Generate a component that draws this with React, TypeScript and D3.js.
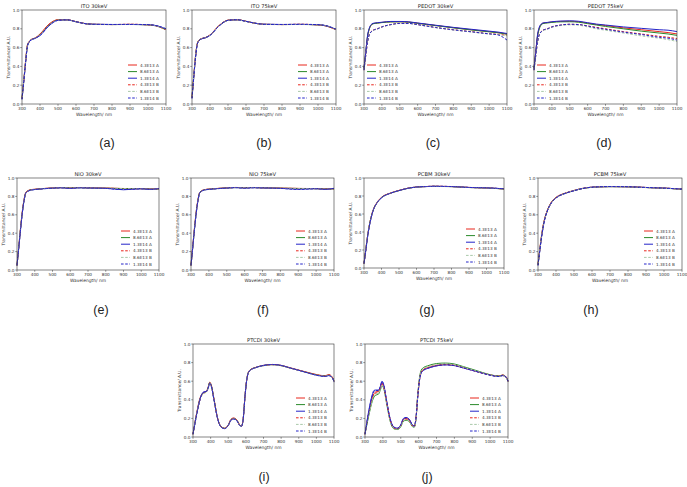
import React from "react";
import * as d3 from "d3";

// ---------- data ----------
const doseLabels = ["4.3E13 A", "8.6E13 A", "1.3E14 A", "4.3E13 B", "8.6E13 B", "1.3E14 B"];
const xTicks = [300, 400, 500, 600, 700, 800, 900, 1000, 1100];
const yTicks = [0.0, 0.2, 0.4, 0.6, 0.8, 1.0];

// wavelength sampling (nm) for the smooth films
const grid = [300, 310, 320, 330, 340, 350, 375, 400, 450, 500, 550, 600, 650, 700, 800, 900, 1000, 1050, 1100];
// finer sampling for the structured PTCDI spectra
const gridP = [300, 320, 340, 350, 360, 375, 385, 395, 405, 420, 440, 460, 480, 500, 515, 530, 550, 565, 575, 585, 595, 605, 615, 630, 650, 700, 750, 800, 850, 900, 950, 1000, 1050, 1070, 1090, 1100];

// ITO 30keV
const ito30_A1 = [0.06, 0.25, 0.46, 0.63, 0.665, 0.685, 0.705, 0.745, 0.85, 0.897, 0.896, 0.876, 0.856, 0.848, 0.845, 0.847, 0.843, 0.83, 0.79];
const ito30_A2 = [0.06, 0.25, 0.45, 0.62, 0.662, 0.683, 0.702, 0.738, 0.842, 0.894, 0.895, 0.875, 0.855, 0.847, 0.845, 0.846, 0.842, 0.829, 0.79];
const ito30_A3 = [0.05, 0.24, 0.44, 0.61, 0.66, 0.68, 0.7, 0.728, 0.832, 0.89, 0.895, 0.875, 0.855, 0.848, 0.846, 0.846, 0.844, 0.832, 0.8];
const ito30_B1 = [0.06, 0.25, 0.45, 0.62, 0.663, 0.684, 0.703, 0.74, 0.845, 0.895, 0.895, 0.875, 0.855, 0.847, 0.845, 0.848, 0.842, 0.828, 0.79];
const ito30_B2 = [0.06, 0.25, 0.45, 0.62, 0.662, 0.683, 0.702, 0.735, 0.838, 0.892, 0.894, 0.874, 0.855, 0.847, 0.845, 0.846, 0.843, 0.83, 0.795];
const ito30_B3 = [0.05, 0.24, 0.44, 0.61, 0.66, 0.68, 0.7, 0.73, 0.835, 0.89, 0.895, 0.875, 0.855, 0.848, 0.846, 0.847, 0.844, 0.832, 0.8];

// ITO 75keV
const ito75_A1 = [0.07, 0.3, 0.52, 0.65, 0.68, 0.695, 0.708, 0.735, 0.835, 0.892, 0.897, 0.88, 0.86, 0.848, 0.845, 0.847, 0.842, 0.828, 0.79];
const ito75_A2 = [0.07, 0.3, 0.51, 0.645, 0.678, 0.693, 0.706, 0.732, 0.832, 0.89, 0.896, 0.879, 0.859, 0.847, 0.845, 0.846, 0.842, 0.829, 0.792];
const ito75_A3 = [0.06, 0.29, 0.5, 0.64, 0.675, 0.69, 0.705, 0.73, 0.83, 0.89, 0.896, 0.879, 0.86, 0.848, 0.846, 0.847, 0.844, 0.83, 0.795];
const ito75_B1 = [0.07, 0.3, 0.51, 0.645, 0.678, 0.692, 0.706, 0.733, 0.833, 0.891, 0.896, 0.879, 0.859, 0.847, 0.845, 0.848, 0.842, 0.828, 0.79];
const ito75_B2 = [0.07, 0.3, 0.51, 0.645, 0.677, 0.692, 0.705, 0.731, 0.831, 0.89, 0.895, 0.878, 0.859, 0.847, 0.845, 0.846, 0.843, 0.83, 0.793];
const ito75_B3 = [0.06, 0.29, 0.5, 0.64, 0.675, 0.69, 0.705, 0.73, 0.83, 0.89, 0.896, 0.879, 0.86, 0.848, 0.846, 0.848, 0.844, 0.831, 0.796];

// PEDOT 30keV
const ped30_A1 = [0.38, 0.55, 0.72, 0.8, 0.84, 0.855, 0.862, 0.868, 0.875, 0.876, 0.872, 0.86, 0.848, 0.836, 0.812, 0.79, 0.77, 0.76, 0.745];
const ped30_A2 = [0.38, 0.55, 0.72, 0.8, 0.838, 0.853, 0.86, 0.866, 0.873, 0.874, 0.87, 0.858, 0.846, 0.834, 0.81, 0.788, 0.768, 0.758, 0.742];
const ped30_A3 = [0.38, 0.56, 0.73, 0.81, 0.845, 0.858, 0.865, 0.87, 0.878, 0.878, 0.874, 0.862, 0.85, 0.838, 0.815, 0.795, 0.775, 0.765, 0.75];
const ped30_B1 = [0.36, 0.52, 0.66, 0.74, 0.77, 0.785, 0.8, 0.82, 0.845, 0.858, 0.858, 0.845, 0.83, 0.815, 0.79, 0.77, 0.748, 0.742, 0.73];
const ped30_B2 = [0.36, 0.52, 0.66, 0.735, 0.765, 0.78, 0.797, 0.818, 0.843, 0.856, 0.856, 0.843, 0.828, 0.812, 0.787, 0.766, 0.744, 0.738, 0.725];
const ped30_B3 = [0.36, 0.52, 0.66, 0.74, 0.768, 0.783, 0.8, 0.82, 0.845, 0.857, 0.857, 0.844, 0.829, 0.814, 0.789, 0.768, 0.746, 0.735, 0.68];

// PEDOT 75keV
const ped75_A1 = [0.38, 0.56, 0.73, 0.81, 0.845, 0.86, 0.866, 0.873, 0.879, 0.88, 0.875, 0.86, 0.845, 0.835, 0.81, 0.79, 0.77, 0.76, 0.745];
const ped75_A2 = [0.38, 0.55, 0.72, 0.8, 0.84, 0.856, 0.862, 0.868, 0.874, 0.875, 0.87, 0.855, 0.84, 0.825, 0.8, 0.775, 0.755, 0.745, 0.73];
const ped75_A3 = [0.38, 0.56, 0.74, 0.82, 0.85, 0.862, 0.868, 0.875, 0.882, 0.885, 0.88, 0.865, 0.85, 0.84, 0.82, 0.805, 0.79, 0.785, 0.77];
const ped75_B1 = [0.36, 0.52, 0.66, 0.74, 0.77, 0.785, 0.8, 0.82, 0.84, 0.848, 0.845, 0.83, 0.815, 0.8, 0.77, 0.745, 0.72, 0.71, 0.695];
const ped75_B2 = [0.36, 0.51, 0.65, 0.735, 0.765, 0.78, 0.795, 0.815, 0.835, 0.842, 0.838, 0.82, 0.8, 0.785, 0.755, 0.725, 0.7, 0.685, 0.665];
const ped75_B3 = [0.36, 0.52, 0.66, 0.74, 0.768, 0.785, 0.8, 0.82, 0.84, 0.848, 0.845, 0.83, 0.81, 0.795, 0.765, 0.74, 0.71, 0.7, 0.68];

// NiO 30keV
const nio30_A1 = [0.05, 0.25, 0.46, 0.64, 0.77, 0.845, 0.872, 0.878, 0.886, 0.892, 0.896, 0.893, 0.897, 0.893, 0.89, 0.886, 0.884, 0.882, 0.88];
const nio30_A2 = [0.05, 0.25, 0.45, 0.63, 0.76, 0.84, 0.87, 0.876, 0.885, 0.89, 0.895, 0.892, 0.895, 0.892, 0.889, 0.885, 0.884, 0.88, 0.879];
const nio30_A3 = [0.05, 0.24, 0.44, 0.62, 0.755, 0.838, 0.868, 0.875, 0.884, 0.89, 0.894, 0.886, 0.894, 0.892, 0.888, 0.872, 0.883, 0.875, 0.885];
const nio30_B1 = [0.05, 0.25, 0.45, 0.63, 0.762, 0.84, 0.87, 0.877, 0.885, 0.891, 0.895, 0.892, 0.896, 0.893, 0.89, 0.885, 0.884, 0.881, 0.88];
const nio30_B2 = [0.05, 0.25, 0.45, 0.63, 0.76, 0.84, 0.869, 0.876, 0.885, 0.89, 0.895, 0.892, 0.895, 0.892, 0.889, 0.885, 0.883, 0.88, 0.879];
const nio30_B3 = [0.05, 0.24, 0.44, 0.62, 0.755, 0.838, 0.866, 0.874, 0.883, 0.889, 0.893, 0.888, 0.893, 0.891, 0.887, 0.875, 0.882, 0.878, 0.884];

// NiO 75keV
const nio75_A1 = [0.05, 0.26, 0.47, 0.65, 0.775, 0.848, 0.873, 0.88, 0.887, 0.893, 0.897, 0.895, 0.897, 0.894, 0.89, 0.887, 0.885, 0.882, 0.88];
const nio75_A2 = [0.05, 0.25, 0.46, 0.64, 0.77, 0.845, 0.871, 0.878, 0.886, 0.892, 0.896, 0.894, 0.896, 0.893, 0.889, 0.886, 0.884, 0.881, 0.879];
const nio75_A3 = [0.05, 0.25, 0.45, 0.63, 0.765, 0.842, 0.87, 0.877, 0.885, 0.891, 0.896, 0.89, 0.895, 0.892, 0.888, 0.878, 0.884, 0.876, 0.887];
const nio75_B1 = [0.05, 0.26, 0.46, 0.64, 0.772, 0.846, 0.872, 0.879, 0.886, 0.892, 0.897, 0.894, 0.896, 0.893, 0.889, 0.886, 0.884, 0.881, 0.88];
const nio75_B2 = [0.05, 0.25, 0.46, 0.64, 0.77, 0.845, 0.871, 0.878, 0.885, 0.891, 0.896, 0.893, 0.896, 0.893, 0.889, 0.886, 0.883, 0.88, 0.879];
const nio75_B3 = [0.05, 0.25, 0.45, 0.63, 0.765, 0.842, 0.869, 0.876, 0.884, 0.89, 0.895, 0.889, 0.894, 0.892, 0.887, 0.876, 0.883, 0.877, 0.888];

// PCBM 30keV
const pcb30_A1 = [0.05, 0.2, 0.35, 0.47, 0.56, 0.63, 0.73, 0.785, 0.832, 0.862, 0.886, 0.9, 0.905, 0.908, 0.905, 0.895, 0.89, 0.885, 0.878];
const pcb30_A2 = [0.05, 0.2, 0.35, 0.47, 0.56, 0.628, 0.728, 0.782, 0.83, 0.86, 0.885, 0.899, 0.905, 0.907, 0.904, 0.894, 0.889, 0.884, 0.877];
const pcb30_A3 = [0.05, 0.19, 0.34, 0.46, 0.55, 0.625, 0.725, 0.78, 0.83, 0.86, 0.885, 0.899, 0.904, 0.908, 0.905, 0.895, 0.89, 0.886, 0.88];
const pcb30_B1 = [0.05, 0.2, 0.35, 0.47, 0.56, 0.63, 0.73, 0.784, 0.831, 0.861, 0.886, 0.9, 0.905, 0.908, 0.905, 0.895, 0.889, 0.885, 0.878];
const pcb30_B2 = [0.05, 0.2, 0.35, 0.47, 0.558, 0.628, 0.727, 0.782, 0.83, 0.86, 0.885, 0.899, 0.904, 0.907, 0.904, 0.894, 0.889, 0.884, 0.877];
const pcb30_B3 = [0.05, 0.19, 0.34, 0.46, 0.552, 0.625, 0.726, 0.781, 0.83, 0.86, 0.885, 0.9, 0.905, 0.908, 0.905, 0.895, 0.89, 0.886, 0.88];

// PCBM 75keV
const pcb75_A1 = [0.06, 0.23, 0.38, 0.5, 0.58, 0.64, 0.74, 0.79, 0.835, 0.865, 0.888, 0.9, 0.905, 0.907, 0.905, 0.897, 0.89, 0.885, 0.878];
const pcb75_A2 = [0.06, 0.22, 0.37, 0.49, 0.575, 0.635, 0.735, 0.785, 0.833, 0.863, 0.887, 0.899, 0.904, 0.906, 0.904, 0.896, 0.889, 0.884, 0.877];
const pcb75_A3 = [0.05, 0.21, 0.36, 0.48, 0.57, 0.632, 0.732, 0.783, 0.832, 0.862, 0.887, 0.9, 0.905, 0.907, 0.905, 0.897, 0.89, 0.885, 0.88];
const pcb75_B1 = [0.06, 0.22, 0.37, 0.49, 0.576, 0.636, 0.736, 0.787, 0.834, 0.864, 0.888, 0.9, 0.905, 0.907, 0.905, 0.897, 0.89, 0.885, 0.878];
const pcb75_B2 = [0.06, 0.22, 0.37, 0.49, 0.574, 0.634, 0.734, 0.785, 0.833, 0.863, 0.887, 0.899, 0.904, 0.906, 0.904, 0.896, 0.889, 0.884, 0.877];
const pcb75_B3 = [0.05, 0.21, 0.36, 0.48, 0.57, 0.632, 0.732, 0.783, 0.832, 0.862, 0.887, 0.9, 0.905, 0.907, 0.905, 0.897, 0.89, 0.885, 0.879];

// PTCDI 30keV
const pt30_A1 = [0.03, 0.25, 0.42, 0.46, 0.48, 0.49, 0.53, 0.59, 0.55, 0.4, 0.2, 0.11, 0.095, 0.13, 0.19, 0.205, 0.18, 0.13, 0.12, 0.2, 0.44, 0.62, 0.7, 0.73, 0.745, 0.77, 0.78, 0.77, 0.745, 0.72, 0.695, 0.672, 0.658, 0.672, 0.645, 0.6];
const pt30_A2 = [0.03, 0.24, 0.41, 0.455, 0.475, 0.485, 0.525, 0.585, 0.545, 0.395, 0.198, 0.108, 0.093, 0.127, 0.185, 0.2, 0.177, 0.128, 0.118, 0.198, 0.438, 0.618, 0.698, 0.728, 0.744, 0.768, 0.778, 0.768, 0.742, 0.717, 0.692, 0.668, 0.655, 0.665, 0.64, 0.598];
const pt30_A3 = [0.03, 0.24, 0.41, 0.46, 0.485, 0.49, 0.52, 0.58, 0.54, 0.39, 0.195, 0.105, 0.09, 0.125, 0.18, 0.195, 0.172, 0.125, 0.115, 0.195, 0.435, 0.615, 0.695, 0.726, 0.742, 0.77, 0.78, 0.77, 0.743, 0.717, 0.69, 0.665, 0.652, 0.66, 0.642, 0.595];
const pt30_B1 = [0.03, 0.24, 0.4, 0.45, 0.47, 0.482, 0.522, 0.582, 0.542, 0.392, 0.197, 0.107, 0.092, 0.126, 0.184, 0.198, 0.176, 0.127, 0.117, 0.197, 0.437, 0.617, 0.697, 0.727, 0.743, 0.767, 0.777, 0.767, 0.742, 0.717, 0.692, 0.668, 0.656, 0.668, 0.643, 0.6];
const pt30_B2 = [0.03, 0.24, 0.4, 0.448, 0.468, 0.48, 0.52, 0.58, 0.54, 0.39, 0.196, 0.106, 0.091, 0.125, 0.182, 0.196, 0.174, 0.126, 0.116, 0.196, 0.436, 0.616, 0.696, 0.726, 0.742, 0.766, 0.776, 0.766, 0.741, 0.716, 0.691, 0.667, 0.654, 0.664, 0.64, 0.597];
const pt30_B3 = [0.03, 0.23, 0.4, 0.455, 0.478, 0.486, 0.518, 0.578, 0.538, 0.388, 0.195, 0.105, 0.09, 0.124, 0.18, 0.194, 0.172, 0.124, 0.114, 0.194, 0.434, 0.614, 0.694, 0.725, 0.742, 0.768, 0.779, 0.769, 0.743, 0.717, 0.69, 0.664, 0.651, 0.66, 0.638, 0.59];

// PTCDI 75keV
const pt75_A1 = [0.03, 0.25, 0.42, 0.465, 0.485, 0.49, 0.53, 0.58, 0.545, 0.395, 0.195, 0.105, 0.09, 0.125, 0.19, 0.2, 0.175, 0.125, 0.115, 0.2, 0.44, 0.62, 0.7, 0.73, 0.748, 0.772, 0.782, 0.772, 0.747, 0.72, 0.692, 0.668, 0.655, 0.668, 0.645, 0.6];
const pt75_A2 = [0.03, 0.22, 0.38, 0.43, 0.45, 0.46, 0.5, 0.55, 0.52, 0.37, 0.175, 0.09, 0.08, 0.11, 0.17, 0.18, 0.16, 0.112, 0.105, 0.19, 0.45, 0.64, 0.72, 0.75, 0.765, 0.79, 0.795, 0.785, 0.757, 0.728, 0.698, 0.67, 0.655, 0.665, 0.64, 0.598];
const pt75_A3 = [0.03, 0.27, 0.45, 0.5, 0.505, 0.505, 0.54, 0.6, 0.56, 0.4, 0.2, 0.11, 0.095, 0.13, 0.2, 0.21, 0.185, 0.13, 0.12, 0.2, 0.43, 0.61, 0.69, 0.72, 0.737, 0.765, 0.776, 0.768, 0.743, 0.717, 0.69, 0.665, 0.65, 0.66, 0.645, 0.6];
const pt75_B1 = [0.03, 0.24, 0.41, 0.455, 0.472, 0.48, 0.518, 0.57, 0.535, 0.385, 0.188, 0.1, 0.087, 0.12, 0.182, 0.192, 0.17, 0.12, 0.112, 0.196, 0.438, 0.618, 0.698, 0.728, 0.744, 0.768, 0.778, 0.769, 0.744, 0.718, 0.69, 0.666, 0.652, 0.662, 0.64, 0.596];
const pt75_B2 = [0.03, 0.23, 0.39, 0.44, 0.46, 0.47, 0.508, 0.56, 0.528, 0.378, 0.182, 0.096, 0.084, 0.116, 0.176, 0.186, 0.165, 0.116, 0.108, 0.193, 0.442, 0.626, 0.706, 0.736, 0.752, 0.778, 0.786, 0.776, 0.75, 0.722, 0.693, 0.667, 0.652, 0.66, 0.638, 0.595];
const pt75_B3 = [0.03, 0.26, 0.44, 0.49, 0.5, 0.5, 0.535, 0.595, 0.555, 0.398, 0.198, 0.108, 0.093, 0.128, 0.196, 0.206, 0.182, 0.128, 0.118, 0.198, 0.432, 0.612, 0.692, 0.722, 0.738, 0.765, 0.776, 0.767, 0.742, 0.716, 0.689, 0.664, 0.65, 0.662, 0.642, 0.598];

// ---------- styling & layout ----------
const seriesStyle = [
  { color: "#e8261d", dash: null },
  { color: "#2a8a2a", dash: null },
  { color: "#2424c8", dash: null },
  { color: "#e8261d", dash: "2.6,1.6" },
  { color: "#a9c9a9", dash: "2.6,1.6" },
  { color: "#2424c8", dash: "2.6,1.6" },
];

type Panel = {
  title: string;
  tag: string;
  x: number[];
  series: number[][];
  box: [number, number, number, number]; // left, right, top, bottom
  legendLeft: boolean;
  tagPos: [number, number];
};

const panels: Panel[] = [
  { title: "ITO 30keV", tag: "(a)", x: grid, series: [ito30_A1, ito30_A2, ito30_A3, ito30_B1, ito30_B2, ito30_B3], box: [22, 166, 10, 104], legendLeft: false, tagPos: [107, 147] },
  { title: "ITO 75keV", tag: "(b)", x: grid, series: [ito75_A1, ito75_A2, ito75_A3, ito75_B1, ito75_B2, ito75_B3], box: [192, 336, 10, 104], legendLeft: false, tagPos: [264, 147] },
  { title: "PEDOT 30keV", tag: "(c)", x: grid, series: [ped30_A1, ped30_A2, ped30_A3, ped30_B1, ped30_B2, ped30_B3], box: [364, 507, 10, 104], legendLeft: true, tagPos: [433, 147] },
  { title: "PEDOT 75keV", tag: "(d)", x: grid, series: [ped75_A1, ped75_A2, ped75_A3, ped75_B1, ped75_B2, ped75_B3], box: [534, 677, 10, 104], legendLeft: true, tagPos: [604, 147] },
  { title: "NiO 30keV", tag: "(e)", x: grid, series: [nio30_A1, nio30_A2, nio30_A3, nio30_B1, nio30_B2, nio30_B3], box: [17, 159, 178, 270], legendLeft: false, tagPos: [101, 314] },
  { title: "NiO 75keV", tag: "(f)", x: grid, series: [nio75_A1, nio75_A2, nio75_A3, nio75_B1, nio75_B2, nio75_B3], box: [191, 334, 178, 270], legendLeft: false, tagPos: [263, 314] },
  { title: "PCBM 30keV", tag: "(g)", x: grid, series: [pcb30_A1, pcb30_A2, pcb30_A3, pcb30_B1, pcb30_B2, pcb30_B3], box: [364, 504, 178, 268], legendLeft: false, tagPos: [427, 314] },
  { title: "PCBM 75keV", tag: "(h)", x: grid, series: [pcb75_A1, pcb75_A2, pcb75_A3, pcb75_B1, pcb75_B2, pcb75_B3], box: [538, 682, 178, 270], legendLeft: false, tagPos: [591, 314] },
  { title: "PTCDI 30keV", tag: "(i)", x: gridP, series: [pt30_A1, pt30_A2, pt30_A3, pt30_B1, pt30_B2, pt30_B3], box: [193, 334, 344, 437], legendLeft: false, tagPos: [264, 481] },
  { title: "PTCDI 75keV", tag: "(j)", x: gridP, series: [pt75_A1, pt75_A2, pt75_A3, pt75_B1, pt75_B2, pt75_B3], box: [365, 508, 344, 437], legendLeft: false, tagPos: [427, 481] },
];

const axisFont = "DejaVu Sans, sans-serif";

function SpectrumPanel({ p }: { p: Panel }) {
  const [l, r, t, b] = p.box;
  const xs = d3.scaleLinear().domain([300, 1100]).range([l, r]);
  const ys = d3.scaleLinear().domain([0, 1]).range([b, t]);
  const line = d3
    .line<[number, number]>()
    .x((d) => xs(d[0]))
    .y((d) => ys(d[1]))
    .curve(d3.curveMonotoneX);

  const legX = p.legendLeft ? l + 3 : r - 38;
  const legRowY = (i: number) => b - 39 + i * 6.6;

  return (
    <g>
      <text x={(l + r) / 2} y={t - 2.5} fontSize={5.2} textAnchor="middle" fontFamily={axisFont} fill="#222">
        {p.title}
      </text>
      {p.series.map((vals, i) => (
        <path
          key={i}
          d={line(p.x.map((w, k) => [w, vals[k]] as [number, number])) || ""}
          fill="none"
          stroke={seriesStyle[i].color}
          strokeWidth={1}
          strokeDasharray={seriesStyle[i].dash || undefined}
        />
      ))}
      <rect x={l} y={t} width={r - l} height={b - t} fill="none" stroke="#333" strokeWidth={0.6} />
      {xTicks.map((v) => (
        <g key={"x" + v}>
          <line x1={xs(v)} x2={xs(v)} y1={b} y2={b + 1.8} stroke="#333" strokeWidth={0.5} />
          <text x={xs(v)} y={b + 6.2} fontSize={4.2} textAnchor="middle" fontFamily={axisFont} fill="#333">
            {v}
          </text>
        </g>
      ))}
      {yTicks.map((v) => (
        <g key={"y" + v}>
          <line x1={l - 1.8} x2={l} y1={ys(v)} y2={ys(v)} stroke="#333" strokeWidth={0.5} />
          <text x={l - 2.6} y={ys(v) + 1.5} fontSize={4.2} textAnchor="end" fontFamily={axisFont} fill="#333">
            {v.toFixed(1)}
          </text>
        </g>
      ))}
      <text x={(l + r) / 2} y={b + 11.5} fontSize={4.4} textAnchor="middle" fontFamily={axisFont} fill="#333">
        Wavelength/ nm
      </text>
      <text
        transform={`translate(${l - 12.5},${(t + b) / 2}) rotate(-90)`}
        fontSize={4.4}
        textAnchor="middle"
        fontFamily={axisFont}
        fill="#333"
      >
        Transmittance/ A.U.
      </text>
      {doseLabels.map((lab, i) => (
        <g key={lab}>
          <line
            x1={legX}
            x2={legX + 9}
            y1={legRowY(i)}
            y2={legRowY(i)}
            stroke={seriesStyle[i].color}
            strokeWidth={1}
            strokeDasharray={seriesStyle[i].dash || undefined}
          />
          <text x={legX + 12} y={legRowY(i) + 1.5} fontSize={4.2} fontFamily={axisFont} fill="#333">
            {lab}
          </text>
        </g>
      ))}
    </g>
  );
}

export default function App() {
  return (
    <svg
      width={687}
      height={487}
      viewBox="0 0 687 487"
      style={{ position: "absolute", left: 0, top: 0, background: "#fff" }}
    >
      <rect width={687} height={487} fill="#fff" />
      {panels.map((p) => (
        <g key={p.tag}>
          <SpectrumPanel p={p} />
          <text
            x={p.tagPos[0]}
            y={p.tagPos[1]}
            fontSize={12.5}
            textAnchor="middle"
            fontFamily="Liberation Sans, Arial, sans-serif"
            fill="#222"
          >
            {p.tag}
          </text>
        </g>
      ))}
    </svg>
  );
}
